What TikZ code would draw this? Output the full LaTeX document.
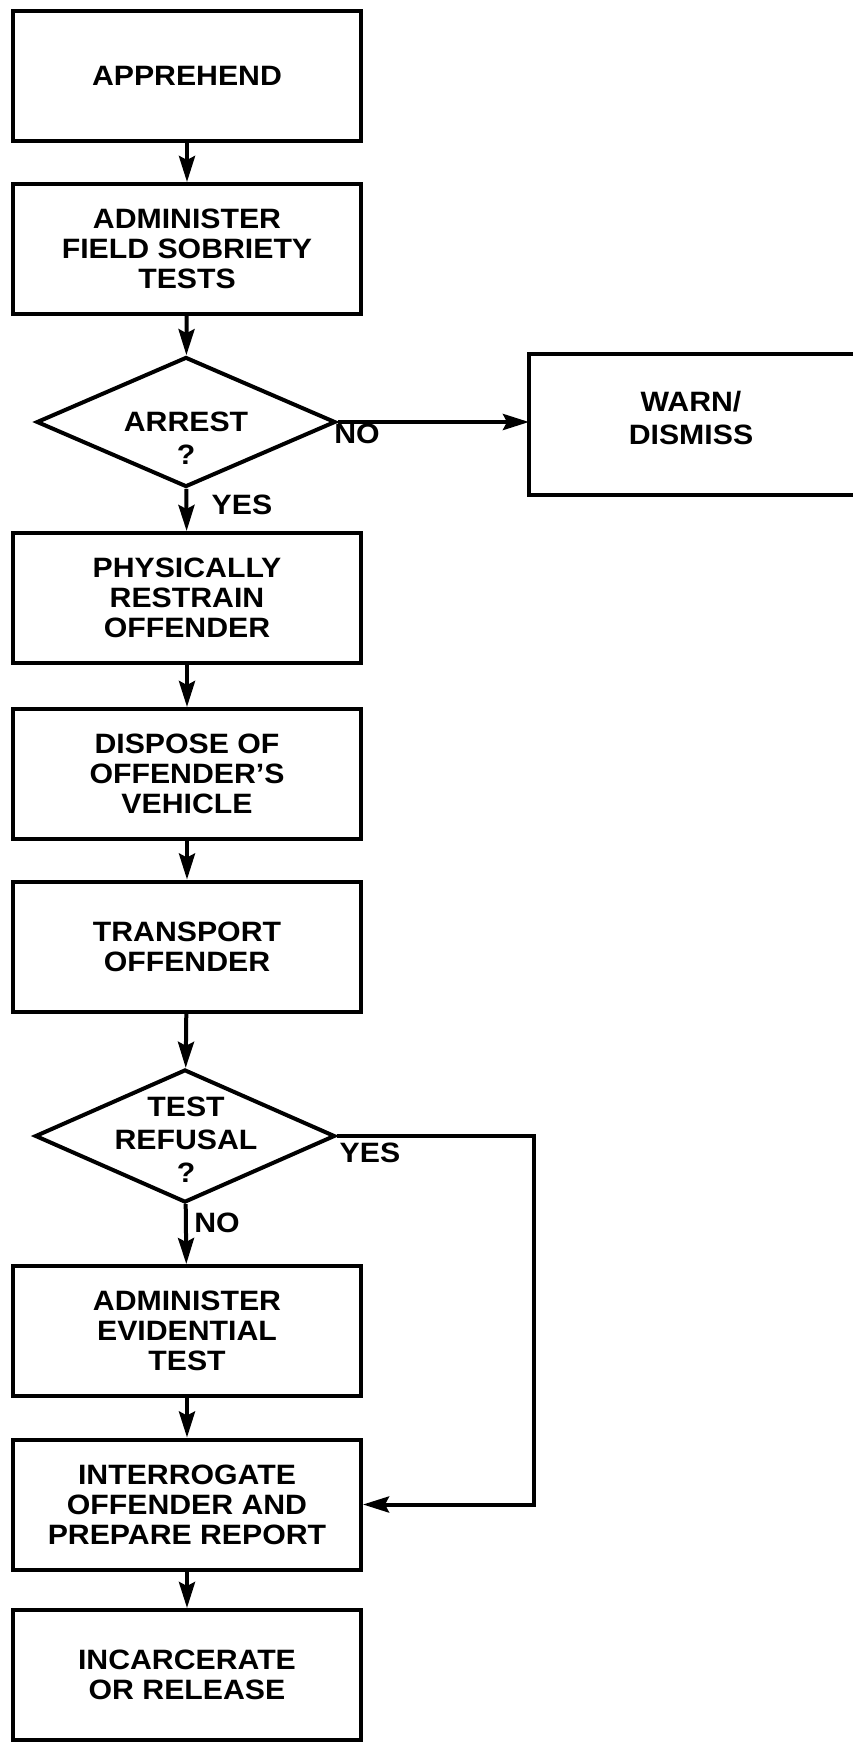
\documentclass[tikz,border=0pt]{standalone}
\usepackage{fontspec}
\setmainfont{Liberation Sans}[FakeStretch=1.08]
\usepackage{tikz}
\usetikzlibrary{arrows.meta,shapes.geometric}
\tikzstyle{stepbox}=[rectangle, draw, line width=4pt, minimum width=348pt, minimum height=130pt, align=center, inner sep=0pt]
\tikzstyle{decision}=[diamond, draw, line width=4pt, minimum width=299pt, minimum height=130pt, inner sep=0pt]
\tikzstyle{flowtext}=[align=center, inner sep=0pt, font=\bfseries\fontsize{28pt}{33pt}\selectfont]
\tikzstyle{branch}=[inner sep=0pt]

\begin{document}
\begin{tikzpicture}[x=1pt, y=-1pt, line width=4pt,
        >={Stealth[length=26pt, width=16pt, inset=4pt]},
        font=\bfseries\fontsize{28pt}{30pt}\selectfont]
                    \useasboundingbox (0,0) rectangle (852,1743);
                    \node[stepbox] (appr)  at (187, 76)    {APPREHEND};
                    \node[stepbox] (field) at (187, 249)   {ADMINISTER\\FIELD SOBRIETY\\TESTS};
                    \node[decision] (arrest) at (186, 422) {};
                    \node[flowtext] (arresttxt) at (186, 438) {ARREST\\?};
                    % the warn box runs off the right edge, so it has no right side
                    \node[rectangle, minimum width=360pt, minimum height=137pt] (warn) at (711, 424) {};
                    \draw (warn.north east) -- (warn.north west) -- (warn.south west) -- (warn.south east);
                    \node[flowtext] (warntxt) at (691, 418) {WARN/\\DISMISS};
                    \node[stepbox] (restr) at (187, 598)   {PHYSICALLY\\RESTRAIN\\OFFENDER};
                    \node[stepbox] (disp)  at (187, 774)   {DISPOSE OF\\OFFENDER'S\\VEHICLE};
                    \node[stepbox] (trans) at (187, 946.5) {TRANSPORT\\OFFENDER};
                    \node[decision, minimum width=300pt, minimum height=133pt] (refusal) at (185, 1136) {};
                    \node[flowtext] (refusaltxt) at (186, 1140) {TEST\\REFUSAL\\?};
                    \node[stepbox] (evid)  at (187, 1331)  {ADMINISTER\\EVIDENTIAL\\TEST};
                    \node[stepbox] (inter) at (187, 1504.5) {INTERROGATE\\OFFENDER AND\\PREPARE REPORT};
                    \node[stepbox] (incar) at (187, 1675)  {INCARCERATE\\OR RELEASE};
                    \coordinate (loop) at (534, 1136);
                    \draw[->]  (appr)--(field);
                    \draw[->]  (field)--(arrest);
                    \draw[->]  (arrest.east)--(arrest.east -| warn.west);
                    \draw[->]  (arrest)--(restr);
                    \draw[->]  (restr)--(disp);
                    \draw[->]  (disp)--(trans);
                    \draw[->]  (trans)--(refusal);
                    \draw[->]  (refusal)--(evid);
                    \draw[->]  (refusal.east) -- (loop) |- (inter.east);
                    \draw[->]  (evid)--(inter);
                    \draw[->]  (inter)--(incar);
                    \node[branch] (arrestno)  at (357, 434)  {NO};
                    \node[branch] (arrestyes) at (242, 505)  {YES};
                    \node[branch] (refusalyes) at (370, 1153) {YES};
                    \node[branch] (refusalno) at (217, 1223) {NO};
                \end{tikzpicture}
\end{document}
